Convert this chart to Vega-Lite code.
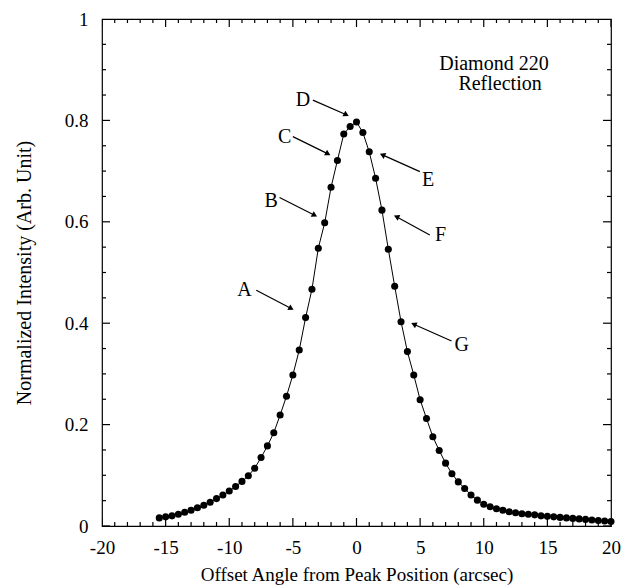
{
  "$schema": "https://vega.github.io/schema/vega-lite/v6.json",
  "width": 509,
  "height": 507,
  "autosize": {"type": "none"},
  "padding": {"left": 102, "top": 19, "right": 16, "bottom": 62},
  "background": "white",
  "config": {"view": {"stroke": "black", "strokeWidth": 1.2}, "font": "Liberation Serif"},
  "datasets": {
    "scan": [
      {"x": -15.5, "y": 0.016}, {"x": -15, "y": 0.018}, {"x": -14.5, "y": 0.020}, {"x": -14, "y": 0.023},
      {"x": -13.5, "y": 0.027}, {"x": -13, "y": 0.031}, {"x": -12.5, "y": 0.036}, {"x": -12, "y": 0.041},
      {"x": -11.5, "y": 0.047}, {"x": -11, "y": 0.054}, {"x": -10.5, "y": 0.061}, {"x": -10, "y": 0.069},
      {"x": -9.5, "y": 0.078}, {"x": -9, "y": 0.088}, {"x": -8.5, "y": 0.099}, {"x": -8, "y": 0.114},
      {"x": -7.5, "y": 0.135}, {"x": -7, "y": 0.158}, {"x": -6.5, "y": 0.184}, {"x": -6, "y": 0.219},
      {"x": -5.5, "y": 0.256}, {"x": -5, "y": 0.298}, {"x": -4.5, "y": 0.347}, {"x": -4, "y": 0.411},
      {"x": -3.5, "y": 0.467}, {"x": -3, "y": 0.548}, {"x": -2.5, "y": 0.598}, {"x": -2, "y": 0.668},
      {"x": -1.5, "y": 0.721}, {"x": -1, "y": 0.773}, {"x": -0.5, "y": 0.788}, {"x": 0, "y": 0.797},
      {"x": 0.5, "y": 0.776}, {"x": 1, "y": 0.738}, {"x": 1.5, "y": 0.686}, {"x": 2, "y": 0.623},
      {"x": 2.5, "y": 0.546}, {"x": 3, "y": 0.473}, {"x": 3.5, "y": 0.403}, {"x": 4, "y": 0.344},
      {"x": 4.5, "y": 0.298}, {"x": 5, "y": 0.249}, {"x": 5.5, "y": 0.212}, {"x": 6, "y": 0.176},
      {"x": 6.5, "y": 0.149}, {"x": 7, "y": 0.124}, {"x": 7.5, "y": 0.103}, {"x": 8, "y": 0.087},
      {"x": 8.5, "y": 0.074}, {"x": 9, "y": 0.061}, {"x": 9.5, "y": 0.051}, {"x": 10, "y": 0.043},
      {"x": 10.5, "y": 0.038}, {"x": 11, "y": 0.034}, {"x": 11.5, "y": 0.031}, {"x": 12, "y": 0.028},
      {"x": 12.5, "y": 0.026}, {"x": 13, "y": 0.024}, {"x": 13.5, "y": 0.023}, {"x": 14, "y": 0.022},
      {"x": 14.5, "y": 0.020}, {"x": 15, "y": 0.019}, {"x": 15.5, "y": 0.018}, {"x": 16, "y": 0.017},
      {"x": 16.5, "y": 0.016}, {"x": 17, "y": 0.015}, {"x": 17.5, "y": 0.014}, {"x": 18, "y": 0.013},
      {"x": 18.5, "y": 0.012}, {"x": 19, "y": 0.011}, {"x": 19.5, "y": 0.010}, {"x": 20, "y": 0.009}
    ],
    "labels": [
      {"label": "A", "side": "L", "tx": -8.8, "ty": 0.465, "x1": -7.88, "y1": 0.465, "x2": -5.13, "y2": 0.429},
      {"label": "B", "side": "L", "tx": -6.7, "ty": 0.642, "x1": -6.05, "y1": 0.648, "x2": -3.29, "y2": 0.613},
      {"label": "C", "side": "L", "tx": -5.65, "ty": 0.768, "x1": -5.0, "y1": 0.768, "x2": -2.24, "y2": 0.734},
      {"label": "D", "side": "L", "tx": -4.21, "ty": 0.841, "x1": -3.43, "y1": 0.840, "x2": -0.8, "y2": 0.811},
      {"label": "E", "side": "R", "tx": 5.63, "ty": 0.682, "x1": 4.98, "y1": 0.699, "x2": 2.04, "y2": 0.732},
      {"label": "F", "side": "R", "tx": 6.6, "ty": 0.574, "x1": 5.76, "y1": 0.574, "x2": 3.14, "y2": 0.610},
      {"label": "G", "side": "R", "tx": 8.26, "ty": 0.357, "x1": 7.47, "y1": 0.365, "x2": 4.5, "y2": 0.398}
    ],
    "notes": [
      {"text": "Diamond 220", "x": 10.8, "y": 0.911},
      {"text": "Reflection", "x": 11.28, "y": 0.871}
    ],
    "xticks": [
      {"v": -20, "kind": "major"}, {"v": -19, "kind": "minor"}, {"v": -18, "kind": "minor"}, {"v": -17, "kind": "minor"}, {"v": -16, "kind": "minor"},
      {"v": -15, "kind": "major"}, {"v": -14, "kind": "minor"}, {"v": -13, "kind": "minor"}, {"v": -12, "kind": "minor"}, {"v": -11, "kind": "minor"},
      {"v": -10, "kind": "major"}, {"v": -9, "kind": "minor"}, {"v": -8, "kind": "minor"}, {"v": -7, "kind": "minor"}, {"v": -6, "kind": "minor"},
      {"v": -5, "kind": "major"}, {"v": -4, "kind": "minor"}, {"v": -3, "kind": "minor"}, {"v": -2, "kind": "minor"}, {"v": -1, "kind": "minor"},
      {"v": 0, "kind": "major"}, {"v": 1, "kind": "minor"}, {"v": 2, "kind": "minor"}, {"v": 3, "kind": "minor"}, {"v": 4, "kind": "minor"},
      {"v": 5, "kind": "major"}, {"v": 6, "kind": "minor"}, {"v": 7, "kind": "minor"}, {"v": 8, "kind": "minor"}, {"v": 9, "kind": "minor"},
      {"v": 10, "kind": "major"}, {"v": 11, "kind": "minor"}, {"v": 12, "kind": "minor"}, {"v": 13, "kind": "minor"}, {"v": 14, "kind": "minor"},
      {"v": 15, "kind": "major"}, {"v": 16, "kind": "minor"}, {"v": 17, "kind": "minor"}, {"v": 18, "kind": "minor"}, {"v": 19, "kind": "minor"},
      {"v": 20, "kind": "major"}
    ],
    "yticks": [
      {"v": 0, "kind": "major"}, {"v": 0.05, "kind": "minor"}, {"v": 0.1, "kind": "minor"}, {"v": 0.15, "kind": "minor"},
      {"v": 0.2, "kind": "major"}, {"v": 0.25, "kind": "minor"}, {"v": 0.3, "kind": "minor"}, {"v": 0.35, "kind": "minor"},
      {"v": 0.4, "kind": "major"}, {"v": 0.45, "kind": "minor"}, {"v": 0.5, "kind": "minor"}, {"v": 0.55, "kind": "minor"},
      {"v": 0.6, "kind": "major"}, {"v": 0.65, "kind": "minor"}, {"v": 0.7, "kind": "minor"}, {"v": 0.75, "kind": "minor"},
      {"v": 0.8, "kind": "major"}, {"v": 0.85, "kind": "minor"}, {"v": 0.9, "kind": "minor"}, {"v": 0.95, "kind": "minor"},
      {"v": 1, "kind": "major"}
    ]
  },
  "layer": [
    {
      "data": {"name": "scan"},
      "mark": {"type": "line", "color": "black", "strokeWidth": 1},
      "encoding": {
        "x": {
          "field": "x", "type": "quantitative",
          "scale": {"domain": [-20, 20], "nice": false, "zero": false},
          "axis": {
            "orient": "bottom",
            "values": [-20, -15, -10, -5, 0, 5, 10, 15, 20],
            "labelExpr": "'' + datum.value",
            "ticks": false,
            "labelPadding": 12, "labelFont": "Liberation Serif", "labelFontSize": 19, "labelColor": "black",
            "labelFlush": false, "labelOverlap": false, "domain": false, "grid": false,
            "title": "Offset Angle from Peak Position (arcsec)",
            "titleFont": "Liberation Serif", "titleFontSize": 19, "titleFontWeight": "normal", "titleColor": "black",
            "titlePadding": 8
          }
        },
        "y": {
          "field": "y", "type": "quantitative",
          "scale": {"domain": [0, 1], "nice": false, "zero": false},
          "axis": {
            "orient": "left",
            "values": [0, 0.2, 0.4, 0.6, 0.8, 1],
            "labelExpr": "'' + datum.value",
            "ticks": false,
            "labelPadding": 14, "labelFont": "Liberation Serif", "labelFontSize": 19, "labelColor": "black",
            "labelFlush": false, "labelOverlap": false, "domain": false, "grid": false,
            "title": "Normalized Intensity (Arb. Unit)",
            "titleFont": "Liberation Serif", "titleFontSize": 20, "titleFontWeight": "normal", "titleColor": "black",
            "titlePadding": 30
          }
        }
      }
    },
    {
      "data": {"name": "scan"},
      "mark": {"type": "point", "filled": true, "color": "black", "size": 50, "opacity": 1},
      "encoding": {
        "x": {"field": "x", "type": "quantitative", "scale": {"domain": [-20, 20], "nice": false, "zero": false}},
        "y": {"field": "y", "type": "quantitative", "scale": {"domain": [0, 1], "nice": false, "zero": false}}
      }
    },
    {
      "data": {"name": "xticks"},
      "mark": {"type": "tick", "orient": "vertical", "color": "black", "thickness": 1.2, "opacity": 1, "clip": true},
      "encoding": {
        "x": {"field": "v", "type": "quantitative", "scale": {"domain": [-20, 20], "nice": false, "zero": false}},
        "y": {"datum": 0, "type": "quantitative", "scale": {"domain": [0, 1], "nice": false, "zero": false}},
        "size": {"condition": {"test": "datum.kind === 'major'", "value": 16}, "value": 8}
      }
    },
    {
      "data": {"name": "xticks"},
      "mark": {"type": "tick", "orient": "vertical", "color": "black", "thickness": 1.2, "opacity": 1, "clip": true},
      "encoding": {
        "x": {"field": "v", "type": "quantitative", "scale": {"domain": [-20, 20], "nice": false, "zero": false}},
        "y": {"datum": 1, "type": "quantitative", "scale": {"domain": [0, 1], "nice": false, "zero": false}},
        "size": {"condition": {"test": "datum.kind === 'major'", "value": 16}, "value": 8}
      }
    },
    {
      "data": {"name": "yticks"},
      "mark": {"type": "tick", "orient": "horizontal", "color": "black", "thickness": 1.2, "opacity": 1, "clip": true},
      "encoding": {
        "y": {"field": "v", "type": "quantitative", "scale": {"domain": [0, 1], "nice": false, "zero": false}},
        "x": {"datum": -20, "type": "quantitative", "scale": {"domain": [-20, 20], "nice": false, "zero": false}},
        "size": {"condition": {"test": "datum.kind === 'major'", "value": 16}, "value": 8}
      }
    },
    {
      "data": {"name": "yticks"},
      "mark": {"type": "tick", "orient": "horizontal", "color": "black", "thickness": 1.2, "opacity": 1, "clip": true},
      "encoding": {
        "y": {"field": "v", "type": "quantitative", "scale": {"domain": [0, 1], "nice": false, "zero": false}},
        "x": {"datum": 20, "type": "quantitative", "scale": {"domain": [-20, 20], "nice": false, "zero": false}},
        "size": {"condition": {"test": "datum.kind === 'major'", "value": 16}, "value": 8}
      }
    },
    {
      "data": {"name": "labels"},
      "mark": {"type": "rule", "color": "black", "strokeWidth": 1.2},
      "encoding": {
        "x": {"field": "x1", "type": "quantitative", "scale": {"domain": [-20, 20], "nice": false, "zero": false}},
        "y": {"field": "y1", "type": "quantitative", "scale": {"domain": [0, 1], "nice": false, "zero": false}},
        "x2": {"field": "x2"},
        "y2": {"field": "y2"}
      }
    },
    {
      "data": {"name": "labels"},
      "mark": {"type": "point", "shape": "triangle-up", "filled": true, "color": "black", "size": 40, "opacity": 1},
      "encoding": {
        "x": {"field": "x2", "type": "quantitative", "scale": {"domain": [-20, 20], "nice": false, "zero": false}},
        "y": {"field": "y2", "type": "quantitative", "scale": {"domain": [0, 1], "nice": false, "zero": false}},
        "angle": {"condition": {"test": "datum.side === 'L'", "value": 118}, "value": 294}
      }
    },
    {
      "data": {"name": "labels"},
      "mark": {"type": "text", "font": "Liberation Serif", "fontSize": 20, "color": "black", "align": "center", "baseline": "middle"},
      "encoding": {
        "x": {"field": "tx", "type": "quantitative", "scale": {"domain": [-20, 20], "nice": false, "zero": false}},
        "y": {"field": "ty", "type": "quantitative", "scale": {"domain": [0, 1], "nice": false, "zero": false}},
        "text": {"field": "label"}
      }
    },
    {
      "data": {"name": "notes"},
      "mark": {"type": "text", "font": "Liberation Serif", "fontSize": 20, "color": "black", "align": "center", "baseline": "middle"},
      "encoding": {
        "x": {"field": "x", "type": "quantitative", "scale": {"domain": [-20, 20], "nice": false, "zero": false}},
        "y": {"field": "y", "type": "quantitative", "scale": {"domain": [0, 1], "nice": false, "zero": false}},
        "text": {"field": "text"}
      }
    }
  ]
}
